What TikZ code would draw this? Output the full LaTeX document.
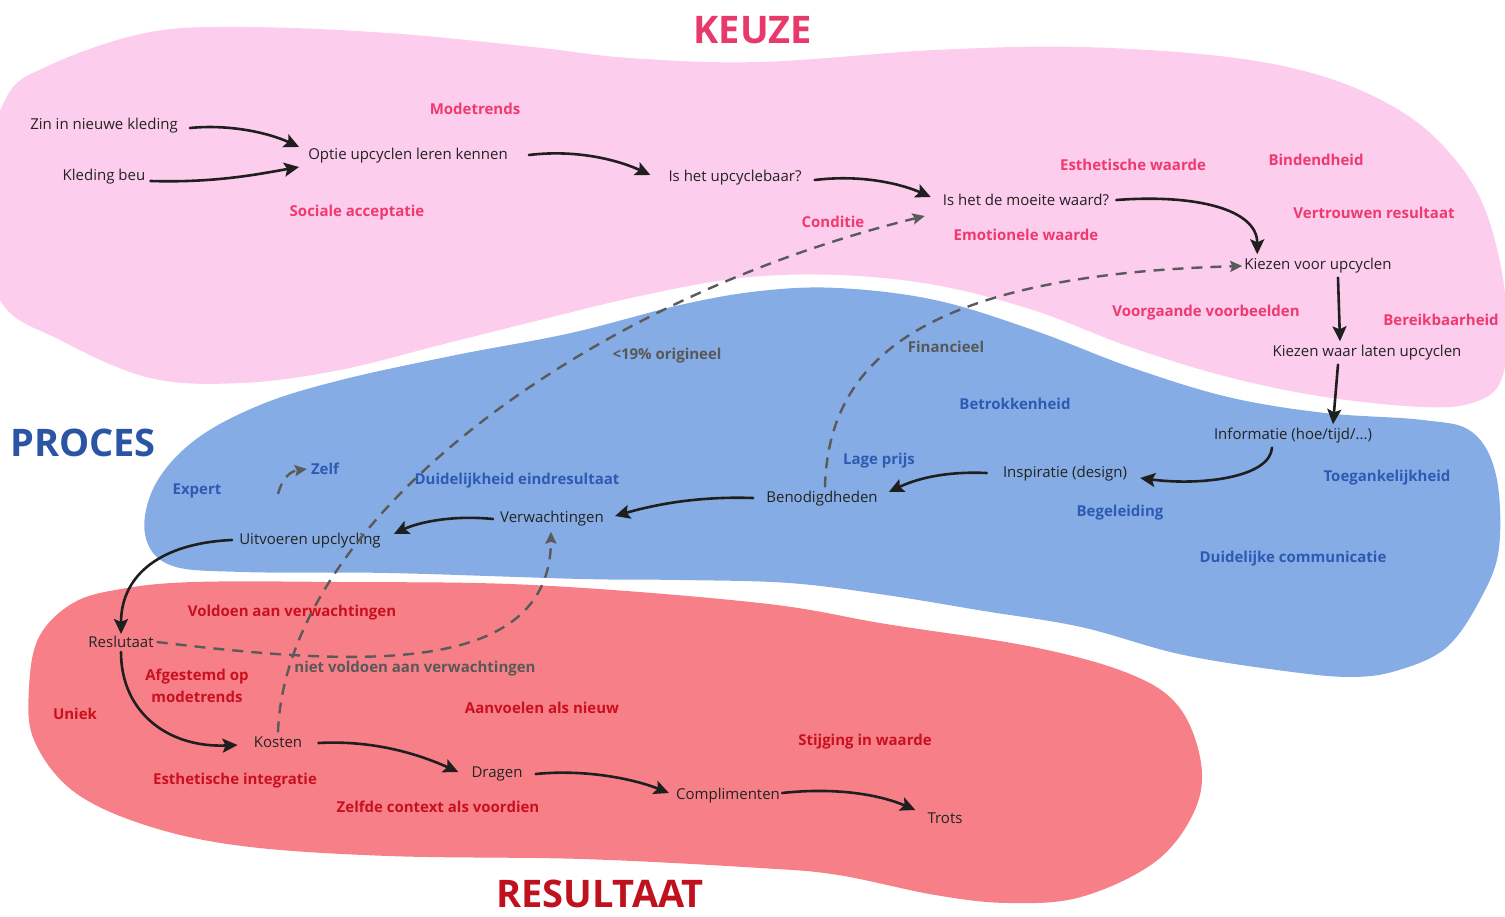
\documentclass[tikz,border=0pt]{standalone}
\usepackage{fontspec}
\setmainfont{Open Sans}
\usetikzlibrary{arrows.meta}

% area fills
\definecolor{keuzefill}{RGB}{252,205,236}
\definecolor{procesfill}{RGB}{133,172,228}
\definecolor{resultfill}{RGB}{247,128,136}
% text colours
\definecolor{plaintext}{RGB}{35,35,35}
\definecolor{keuzetext}{RGB}{238,58,110}
\definecolor{procestext}{RGB}{46,90,180}
\definecolor{resulttext}{RGB}{200,16,30}
\definecolor{notetext}{RGB}{88,88,88}
\definecolor{keuzetitle}{RGB}{232,58,106}
\definecolor{procestitle}{RGB}{44,84,164}
\definecolor{resulttitle}{RGB}{192,18,30}
\definecolor{dashline}{RGB}{90,90,90}

\newcommand\labelsize{\fontsize{15}{22}\selectfont}

\begin{document}
\begin{tikzpicture}[x=1pt,y=-1pt,
  stepnode/.style={font=\labelsize, text=plaintext, inner sep=0pt},
  pinklabel/.style={font=\labelsize\bfseries, text=keuzetext, inner sep=0pt},
  bluelabel/.style={font=\labelsize\bfseries, text=procestext, inner sep=0pt},
  redlabel/.style={font=\labelsize\bfseries, text=resulttext, inner sep=0pt, align=center},
  notelabel/.style={font=\labelsize\bfseries, text=notetext, inner sep=0pt},
  title/.style={font=\fontsize{38}{44}\selectfont\bfseries, inner sep=0pt},
  flow/.style={line width=2.6pt, draw=black!88, line cap=round,
    -{Stealth[length=15pt,width=14pt,inset=3pt]}},
  feedback/.style={line width=2.4pt, draw=dashline, dash pattern=on 11pt off 8pt,
    -{Stealth[length=12pt,width=11pt,inset=2pt]}}
]
\useasboundingbox (0,0) rectangle (1505,917);

% ---------- the three areas ----------
\begin{scope}
\clip (0,0) rectangle (1505,917);
\fill[keuzefill] plot[smooth cycle, tension=0.6] coordinates {
  (-20,200) (5,100) (48,66) (145,33) (242,27) (388,33) (533,47) (630,58)
  (760,62) (935,50) (1081,47) (1228,57) (1325,77) (1399,110) (1447,150)
  (1481,200) (1501,267) (1507,333) (1500,383) (1472,403) (1423,407)
  (1325,397) (1228,377) (1130,347) (1033,310) (935,285) (838,275) (740,278)
  (640,296) (540,320) (440,345) (340,370) (242,383) (150,378) (60,340) (0,300)};
\fill[procesfill] plot[smooth cycle, tension=0.6] coordinates {
  (145,534) (155,485) (195,440) (260,405) (341,380) (456,355) (571,333)
  (680,305) (760,291) (838,288) (935,300) (1033,330) (1130,367) (1228,397)
  (1325,413) (1423,420) (1472,432) (1496,475) (1499,548) (1481,598)
  (1447,647) (1399,670) (1350,677) (1277,670) (1179,654) (1081,627)
  (984,611) (886,595) (789,583) (680,580) (582,579) (388,573) (242,572)
  (170,565)};
\fill[resultfill] plot[smooth cycle, tension=0.6] coordinates {
  (29,688) (39,637) (73,603) (121,589) (194,582) (339,582) (533,585)
  (760,603) (886,624) (1033,647) (1130,674) (1179,707) (1201,763)
  (1194,812) (1155,862) (1081,897) (1008,903) (935,895) (838,875)
  (760,868) (582,859) (388,856) (242,846) (145,825) (73,791) (34,740)};
\end{scope}

% ---------- titles ----------
\node[title, text=keuzetitle] (keuze) at (753,30) {KEUZE};
\node[title, text=procestitle] (proces) at (83,443) {PROCES};
\node[title, text=resulttitle] (resultaat) at (600,894) {RESULTAAT};

% ---------- steps ----------
\node[stepnode] (zin) at (104,126) {Zin in nieuwe kleding};
\node[stepnode] (beu) at (104,177) {Kleding beu};
\node[stepnode] (optie) at (408,156) {Optie upcyclen leren kennen};
\node[stepnode] (upcy) at (735,178) {Is het upcyclebaar?};
\node[stepnode] (moeite) at (1026,200) {Is het de moeite waard?};
\node[stepnode] (kvoor) at (1318,266) {Kiezen voor upcyclen};
\node[stepnode] (kwaar) at (1367,353) {Kiezen waar laten upcyclen};
\node[stepnode] (info) at (1293,436) {Informatie (hoe/tijd/...)};
\node[stepnode] (insp) at (1065,474) {Inspiratie (design)};
\node[stepnode] (benod) at (822,499) {Benodigdheden};
\node[stepnode] (verw) at (552,519) {Verwachtingen};
\node[stepnode] (uitv) at (310,541) {Uitvoeren upclycling};
\node[stepnode] (resl) at (121,642) {Reslutaat};
\node[stepnode] (kosten) at (278,742) {Kosten};
\node[stepnode] (dragen) at (497,774) {Dragen};
\node[stepnode] (compl) at (728,796) {Complimenten};
\node[stepnode] (trots) at (945,818) {Trots};

% ---------- factors: keuze ----------
\node[pinklabel] (modetrends) at (475,109) {Modetrends};
\node[pinklabel] (sociaal) at (357,213) {Sociale acceptatie};
\node[pinklabel] (esthw) at (1133,165) {Esthetische waarde};
\node[pinklabel] (binden) at (1316,160) {Bindendheid};
\node[pinklabel] (conditie) at (833,222) {Conditie};
\node[pinklabel] (emotie) at (1026,235) {Emotionele waarde};
\node[pinklabel] (vertrouwen) at (1374,213) {Vertrouwen resultaat};
\node[pinklabel] (voorbeeld) at (1206,313) {Voorgaande voorbeelden};
\node[pinklabel] (bereik) at (1441,320) {Bereikbaarheid};

% ---------- factors: proces ----------
\node[bluelabel] (betrok) at (1015,404) {Betrokkenheid};
\node[bluelabel] (toegang) at (1387,478) {Toegankelijkheid};
\node[bluelabel] (prijs) at (879,461) {Lage prijs};
\node[bluelabel] (begel) at (1120,513) {Begeleiding};
\node[bluelabel] (communic) at (1293,559) {Duidelijke communicatie};
\node[bluelabel] (expert) at (197,491) {Expert};
\node[bluelabel] (zelf) at (325,469) {Zelf};
\node[bluelabel] (duidelijk) at (517,481) {Duidelijkheid eindresultaat};

% ---------- factors: resultaat ----------
\node[redlabel] (voldoen) at (292,613) {Voldoen aan verwachtingen};
\node[redlabel] (afgestemd) at (197,686) {Afgestemd op\\modetrends};
\node[redlabel] (uniek) at (75,714) {Uniek};
\node[redlabel] (aanvoelen) at (542,708) {Aanvoelen als nieuw};
\node[redlabel] (stijging) at (865,742) {Stijging in waarde};
\node[redlabel] (integratie) at (235,781) {Esthetische integratie};
\node[redlabel] (context) at (438,807) {Zelfde context als voordien};

% ---------- notes on the feedback loops ----------
\node[notelabel] (origineel) at (667,356) {<19\% origineel};
\node[notelabel] (financieel) at (946,347) {Financieel};
\node[notelabel] (nietvoldoen) at (415,669) {niet voldoen aan verwachtingen};

% ---------- main flow ----------
\draw[flow] ([shift={(12,2)}]zin.east) .. controls +(40,-4) and +(-30,-14) .. ([shift={(-9,-9)}]optie.west);
\draw[flow] ([shift={(5,4)}]beu.east) .. controls +(65,2) and +(-40,7) .. ([shift={(-9,11)}]optie.west);
\draw[flow] ([shift={(21,-1)}]optie.east) .. controls +(50,-6) and +(-30,-14) .. ([shift={(-18,-3)}]upcy.west);
\draw[flow] ([shift={(13,2)}]upcy.east) .. controls +(50,-6) and +(-27,-12) .. ([shift={(-12,-3)}]moeite.west);
\draw[flow] ([shift={(7,0)}]moeite.east) .. controls +(80,-6) and +(0,-45) .. ([shift={(13,-4)}]kvoor.north west);
\draw[flow] ([shift={(20,4)}]kvoor.south) -- ([shift={(-27,-4)}]kwaar.north);
\draw[flow] ([shift={(-29,4)}]kwaar.south) -- ([shift={(40,-4)}]info.north);
\draw[flow] ([shift={(-21,4)}]info.south) .. controls +(-2,30) and +(60,8) .. ([shift={(13,4)}]insp.east);
\draw[flow] ([shift={(-16,-1)}]insp.west) .. controls +(-45,-2) and +(25,-12) .. ([shift={(11,-7)}]benod.east);
\draw[flow] ([shift={(-13,-1)}]benod.west) .. controls +(-60,-2) and +(35,-10) .. ([shift={(11,-3)}]verw.east);
\draw[flow] ([shift={(-7,0)}]verw.west) .. controls +(-40,-4) and +(25,-12) .. ([shift={(13,-7)}]uitv.east);
\draw[flow] ([shift={(-7,-1)}]uitv.west) .. controls +(-70,3) and +(0,-60) .. ([shift={(0,-2)}]resl.north);
\draw[flow] ([shift={(0,4)}]resl.south) .. controls +(0,60) and +(-70,3) .. ([shift={(-16,3)}]kosten.west);
\draw[flow] ([shift={(16,1)}]kosten.east) .. controls +(55,-3) and +(-40,-18) .. ([shift={(-13,-2)}]dragen.west);
\draw[flow] ([shift={(13,0)}]dragen.east) .. controls +(50,-5) and +(-35,-14) .. ([shift={(-7,-3)}]compl.west);
\draw[flow] ([shift={(2,-3)}]compl.east) .. controls +(55,-6) and +(-35,-15) .. ([shift={(-12,-8)}]trots.west);

% ---------- feedback loops ----------
\draw[feedback] ([shift={(0,-4)}]kosten.north) .. controls +(7,-210) and +(-342,84) .. ([shift={(-18,16)}]moeite.west);
\draw[feedback] ([shift={(3,-4)}]benod.north) .. controls +(3,-127) and +(-320,9) .. ([shift={(-2,0)}]kvoor.west);
\draw[feedback] ([shift={(3,0)}]resl.east) .. controls +(192,23) and +(-1,148) .. ([shift={(-1,5)}]verw.south);
\coordinate (zelfstart) at (278,494);
\draw[feedback] (zelfstart) .. controls +(5,-18) and +(-15,2) .. ([shift={(-4,0)}]zelf.west);
\end{tikzpicture}
\end{document}
